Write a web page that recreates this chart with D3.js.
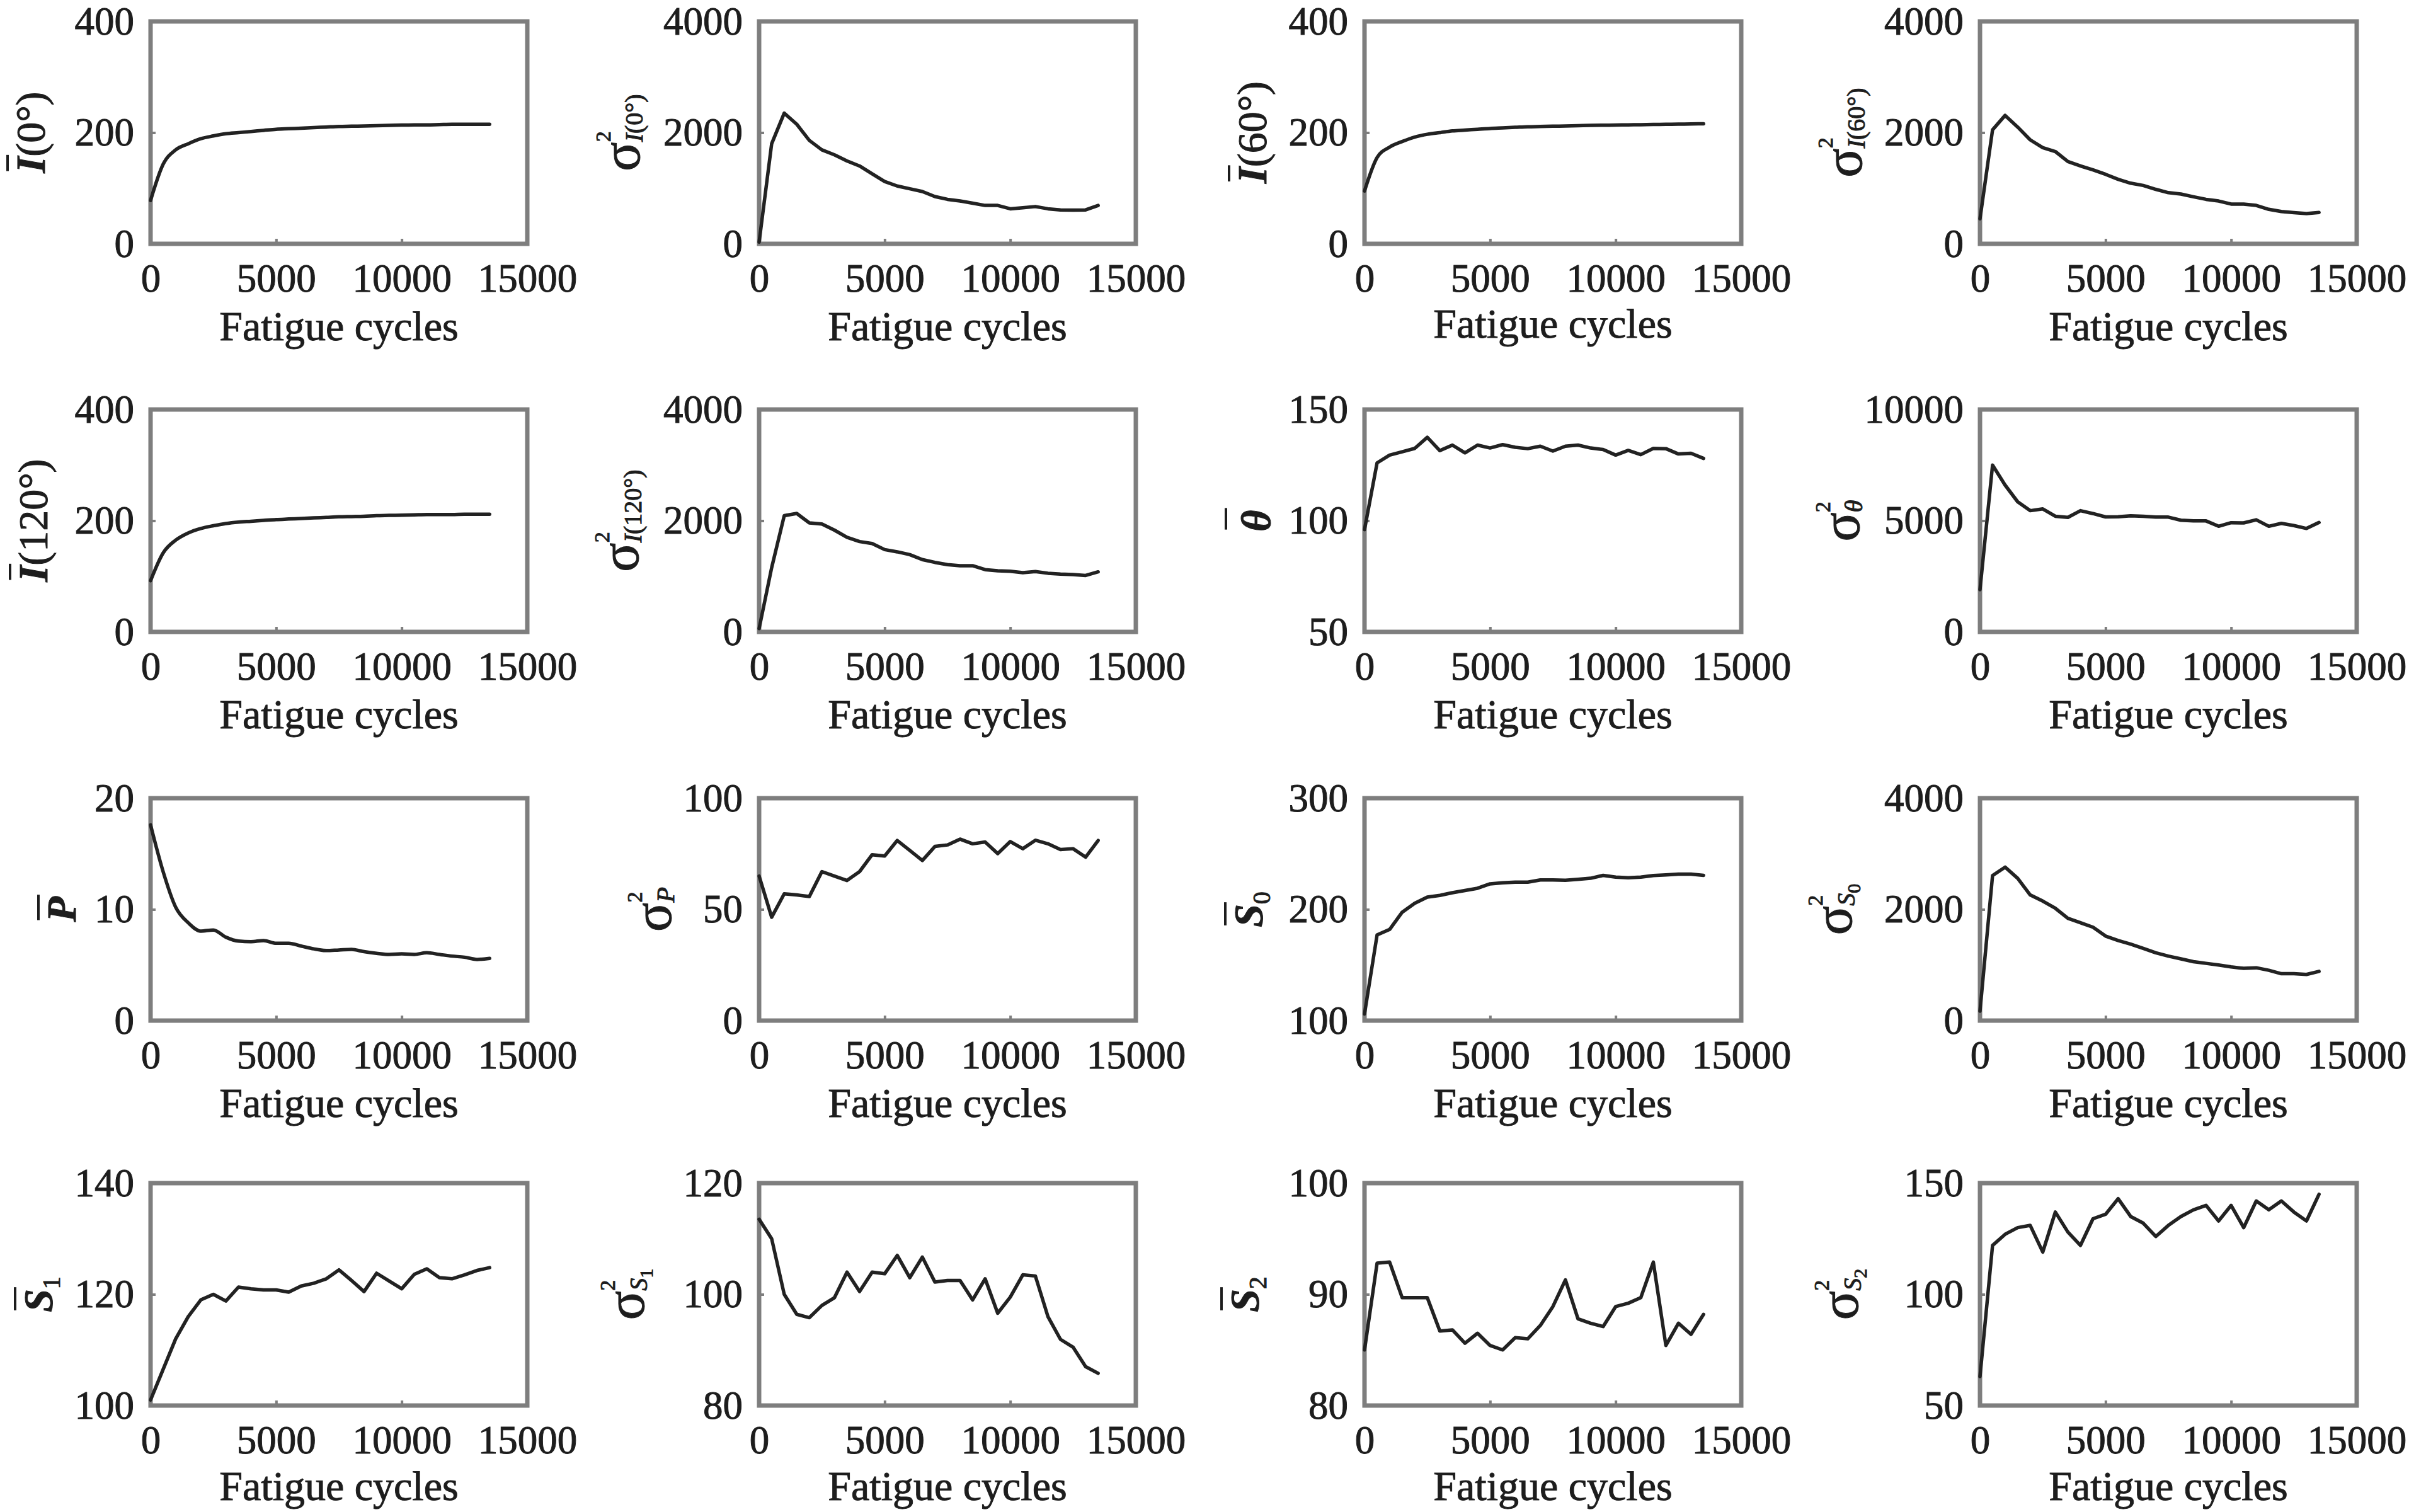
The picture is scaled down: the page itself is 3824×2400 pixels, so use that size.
<!DOCTYPE html>
<html>
  <head>
    <meta charset="utf-8">
    <title>Feature statistics against fatigue cycles</title>
    <script src="https://cdn.jsdelivr.net/npm/d3@7/dist/d3.min.js"></script>
    <style>
      body { margin: 0; background: #ffffff; }
      #chart { display: block; }
      .box { fill: none; stroke: #7e7e7e; stroke-width: 7; }
      .axis .domain { display: none; }
      .axis line { stroke: #7e7e7e; stroke-width: 4; }
      .axis text, .xTitle, .yTitle {
        font-family: "Liberation Serif", "Times New Roman", serif;
        fill: #1d1d1d;
        stroke: #1d1d1d;
        stroke-width: 1;
      }
      .axis text { font-size: 63px; }
      .xTitle { font-size: 66px; text-anchor: middle; }
      .curve { fill: none; stroke: #222222; stroke-width: 5.5; stroke-linejoin: round; stroke-linecap: round; }
      .labelBar { stroke: #1d1d1d; stroke-width: 4; }
    </style>
  </head>

  <body>
    <svg id="chart" width="3824" height="2400"></svg>

    <script>
      // data
      cycles = [0, 500, 1000, 1500, 2000, 2500, 3000, 3500, 4000, 4500, 5000, 5500, 6000, 6500,
        7000, 7500, 8000, 8500, 9000, 9500, 10000, 10500, 11000, 11500, 12000, 12500, 13000, 13500];
      xTicks = [0, 5000, 10000, 15000];

      meanI0 = [78, 143, 169, 180, 189, 194, 198, 200, 202, 204, 206, 207, 208, 209,
        210, 211, 211.5, 212, 212.5, 213, 213.5, 214, 214, 214.5, 215, 215, 215, 215];
      varI0 = [30, 1800, 2350, 2150, 1860, 1690, 1600, 1490, 1400, 1260, 1120, 1040, 990, 940,
        850, 800, 770, 730, 690, 690, 630, 650, 670, 630, 610, 605, 610, 690];
      meanI60 = [95, 155, 174, 184, 192, 197, 200, 203, 204.5, 206, 207.5, 208.5, 209.5, 210.5,
        211, 211.5, 212, 212.5, 213, 213.3, 213.6, 214, 214.3, 214.6, 215, 215.3, 215.6, 216];
      varI60 = [450, 2050, 2310, 2100, 1870, 1730, 1660, 1480, 1400, 1330, 1250, 1160, 1090, 1050,
        980, 920, 895, 845, 800, 770, 715, 715, 690, 620, 580, 560, 545, 565];
      meanI120 = [92, 142, 165, 178, 186, 191, 195, 197.5, 199, 200.5, 202, 203, 204, 205,
        206, 207, 207.5, 208, 209, 209.5, 210, 210.5, 211, 211, 211, 211.5, 211.5, 211.5];
      varI120 = [60, 1156, 2090, 2130, 1960, 1940, 1830, 1700, 1625, 1590, 1480, 1440, 1390, 1300,
        1250, 1210, 1190, 1190, 1120, 1100, 1090, 1065, 1085, 1055, 1040, 1030, 1015, 1080];
      meanTheta = [96, 126, 129.5, 131, 132.5, 137.5, 131.5, 134, 130.5, 134, 132.7, 134.2, 133, 132.4,
        133.5, 131.3, 133.5, 134, 132.7, 132, 129.5, 131.6, 129.7, 132.5, 132.4, 130, 130.3, 128];
      varTheta = [1900, 7500, 6600, 5850, 5450, 5530, 5200, 5150, 5450, 5320, 5170, 5180, 5220, 5200,
        5160, 5160, 5020, 4990, 4990, 4750, 4910, 4900, 5040, 4750, 4880, 4780, 4650, 4920];
      meanP = [17.6, 13.4, 10.2, 8.8, 8.05, 8.15, 7.5, 7.15, 7.1, 7.2, 6.95, 6.95, 6.7, 6.45,
        6.3, 6.35, 6.4, 6.2, 6.05, 5.95, 6.0, 5.95, 6.1, 5.95, 5.8, 5.7, 5.5, 5.6];
      varP = [65, 46.5, 57, 56.5, 55.8, 67, 65, 63, 67, 74.6, 74, 81, 76.5, 72,
        78.3, 79, 81.6, 79.5, 80.3, 75.1, 80.5, 77.3, 81.1, 79.5, 76.9, 77.3, 73.5, 81];
      meanS0 = [106, 177, 182, 197.5, 205.5, 211, 212.6, 215, 217, 219, 223, 224, 224.5, 224.5,
        226.5, 226.5, 226.2, 227, 228, 230.6, 229, 228.5, 229, 230.5, 231, 231.7, 231.7, 230.6];
      varS0 = [170, 2610, 2760, 2560, 2260, 2150, 2020, 1840, 1760, 1680, 1520, 1440, 1375, 1300,
        1220, 1160, 1110, 1060, 1030, 1000, 965, 940, 950, 905, 843, 843, 830, 886];
      meanS1 = [101, 106.5, 112, 116, 119, 120, 118.8, 121.3, 121, 120.8, 120.8, 120.4, 121.5, 122,
        122.8, 124.4, 122.5, 120.5, 123.8, 122.4, 121, 123.6, 124.6, 123, 122.8, 123.5, 124.3, 124.8];
      varS1 = [113.5, 110, 100, 96.4, 95.8, 98, 99.4, 104, 100.5, 104, 103.7, 107, 103, 106.7,
        102.2, 102.5, 102.5, 99, 102.8, 96.6, 99.5, 103.5, 103.3, 96, 91.9, 90.5, 87, 85.8];
      meanS2 = [85, 92.8, 92.9, 89.7, 89.7, 89.7, 86.7, 86.8, 85.6, 86.5, 85.4, 85.0, 86.1, 86.0,
        87.2, 88.9, 91.3, 87.8, 87.4, 87.1, 88.9, 89.2, 89.7, 92.9, 85.4, 87.4, 86.4, 88.2];
      varS2 = [63, 122, 127, 130, 131, 119, 137, 128, 122, 134, 136, 143, 135, 132,
        126, 131, 135, 138, 140, 133, 140, 130, 142, 138, 142, 137, 133, 145];

      // y tick labels
      ticksI = [0, 200, 400];
      ticksVarI = [0, 2000, 4000];
      ticksTheta = [50, 100, 150];
      ticksVarTheta = [0, 5000, 10000];
      ticksP = [0, 10, 20];
      ticksVarP = [0, 50, 100];
      ticksS0 = [100, 200, 300];
      ticksVarS0 = [0, 2000, 4000];
      ticksS1 = [100, 120, 140];
      ticksVarS1 = [80, 100, 120];
      ticksS2 = [80, 90, 100];
      ticksVarS2 = [50, 100, 150];

      // panel set-up, reading order
      panels = [
        { values: meanI0, ticks: ticksI, gap: 168, smooth: true, label: [["I", "bar"], ["(0°)", "main"]] },
        { values: varI0, ticks: ticksVarI, gap: 190, label: [["σ", "sigma"], ["2", "sup"], ["I", "subvar"], ["(0°)", "sub"]] },
        { values: meanI60, ticks: ticksI, gap: 156, smooth: true, titleShift: -4, label: [["I", "bar"], ["(60°)", "main"]] },
        { values: varI60, ticks: ticksVarI, gap: 188, label: [["σ", "sigma"], ["2", "sup"], ["I", "subvar"], ["(60°)", "sub"]] },
        { values: meanI120, ticks: ticksI, gap: 164, smooth: true, label: [["I", "bar"], ["(120°)", "main"]] },
        { values: varI120, ticks: ticksVarI, gap: 192, label: [["σ", "sigma"], ["2", "sup"], ["I", "subvar"], ["(120°)", "sub"]] },
        { values: meanTheta, ticks: ticksTheta, gap: 150, label: [["θ", "bar"]] },
        { values: varTheta, ticks: ticksVarTheta, gap: 192, label: [["σ", "sigma"], ["2", "sup"], ["θ", "subvar"]] },
        { values: meanP, ticks: ticksP, gap: 119, smooth: true, label: [["P", "bar"]] },
        { values: varP, ticks: ticksVarP, gap: 140, label: [["σ", "sigma"], ["2", "sup"], ["P", "subvar"]] },
        { values: meanS0, ticks: ticksS0, gap: 162, label: [["S", "bar"], ["0", "sub"]] },
        { values: varS0, ticks: ticksVarS0, gap: 204, label: [["σ", "sigma"], ["2", "sup"], ["S", "subvar"], ["0", "subsub"]] },
        { values: meanS1, ticks: ticksS1, gap: 156, titleShift: -3, label: [["S", "bar"], ["1", "sub"]] },
        { values: varS1, ticks: ticksVarS1, gap: 183, titleShift: -3, label: [["σ", "sigma"], ["2", "sup"], ["S", "subvar"], ["1", "subsub"]] },
        { values: meanS2, ticks: ticksS2, gap: 168, titleShift: -3, label: [["S", "bar"], ["2", "sub"]] },
        { values: varS2, ticks: ticksVarS2, gap: 194, titleShift: -3, label: [["σ", "sigma"], ["2", "sup"], ["S", "subvar"], ["2", "subsub"]] }
      ];

      // layout
      colLeft = [239, 1205, 2166, 3143];
      rowTop = [34, 650, 1267, 1878];
      boxWidth = 598;
      boxHeight = 353;

      chart = d3.select("#chart");

      panels.forEach(function(p, i) {
        left = colLeft[i % 4];
        top_ = rowTop[Math.floor(i / 4)];

        g = chart.append("g")
          .attr("transform", "translate(" + left + "," + top_ + ")");

        x = d3.scaleLinear()
          .domain([0, 15000])
          .range([0, boxWidth]);
        y = d3.scaleLinear()
          .domain([p.ticks[0], p.ticks[p.ticks.length - 1]])
          .range([boxHeight, 0]);

        g.append("rect")
          .attr("class", "box")
          .attr("width", boxWidth)
          .attr("height", boxHeight);

        g.append("g")
          .attr("class", "axis")
          .attr("transform", "translate(0," + boxHeight + ")")
          .call(d3.axisBottom(x)
            .tickValues(xTicks)
            .tickFormat(d3.format("d"))
            .tickSize(-8)
            .tickPadding(31));

        g.append("g")
          .attr("class", "axis")
          .call(d3.axisLeft(y)
            .tickValues(p.ticks)
            .tickFormat(d3.format("d"))
            .tickSize(-8)
            .tickPadding(26));

        line = d3.line()
          .x(function(d) { return x(d[0]); })
          .y(function(d) { return y(d[1]); })
          .curve(p.smooth ? d3.curveMonotoneX : d3.curveLinear);

        g.append("path")
          .attr("class", "curve")
          .attr("d", line(d3.zip(cycles, p.values)));

        g.append("text")
          .attr("class", "xTitle")
          .attr("x", boxWidth / 2)
          .attr("y", boxHeight + 153 + (p.titleShift || 0))
          .text("Fatigue cycles");

        labelGroup = g.append("g")
          .attr("transform", "translate(" + (-p.gap) + "," + (boxHeight / 2) + ") rotate(-90)");
        drawLabel(labelGroup, p.label);
      });

      // rotated y label with bars, super- and subscripts
      function drawLabel(parent, parts) {
        inner = parent.append("g");
        text = inner.append("text").attr("class", "yTitle");
        level = 0;
        supWidth = 0;
        charIndex = 0;
        bars = [];

        parts.forEach(function(part) {
          kind = part[1];
          span = text.append("tspan").text(part[0]);
          size = 66;
          target = 0;
          if (kind == "sigma") size = 86;
          if (kind == "bar") span.attr("font-style", "italic").attr("font-weight", "bold");
          if (kind == "sup") { size = 34; target = -46; }
          if (kind == "sub" || kind == "subvar") { size = 40; target = bars.length ? 12 : 5; }
          if (kind == "subvar") span.attr("font-style", "italic");
          if (kind == "subsub") { size = 30; target = 14; }
          span.attr("font-size", size).attr("dy", target - level);
          if (supWidth && (kind == "sub" || kind == "subvar")) {
            span.attr("dx", -supWidth);
            supWidth = 0;
          }
          if (kind == "sup") supWidth = span.node().getComputedTextLength();
          if (kind == "bar") bars.push({ index: charIndex, lift: part[0] == "θ" ? 70 : 59 });
          level = target;
          charIndex += part[0].length;
        });

        bars.forEach(function(b) {
          start = text.node().getStartPositionOfChar(b.index);
          end = text.node().getEndPositionOfChar(b.index);
          inner.append("line")
            .attr("class", "labelBar")
            .attr("x1", start.x + 3)
            .attr("x2", end.x + 3)
            .attr("y1", -b.lift)
            .attr("y2", -b.lift);
        });

        box = text.node().getBBox();
        inner.attr("transform", "translate(" + (-(box.x + box.width / 2)) + ",0)");
      }
    </script>
  </body>
</html>
